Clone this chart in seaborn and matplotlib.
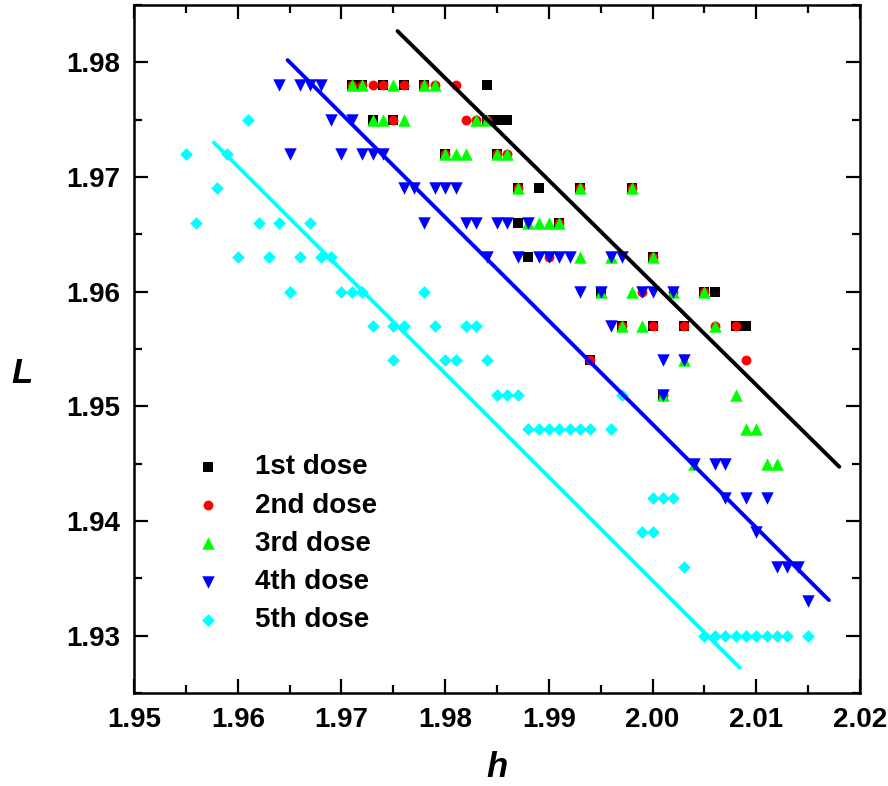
import matplotlib
matplotlib.use("Agg")
import matplotlib.pyplot as plt
import seaborn as sns
import numpy as np
import pandas as pd
from matplotlib.ticker import MultipleLocator

# ---------------- data ----------------
# 1st dose
h1 = [1.971, 1.972, 1.974, 1.976, 1.978, 1.984,
      1.973, 1.975, 1.984, 1.985, 1.986,
      1.980, 1.985,
      1.987, 1.989, 1.993, 1.998,
      1.987, 1.991,
      1.988, 2.000,
      1.995, 2.005, 2.006,
      1.997, 2.000, 2.003, 2.008, 2.009,
      1.994,
      2.001]
L1 = [1.978]*6 + [1.975]*5 + [1.972]*2 + [1.969]*4 + [1.966]*2 + [1.963]*2 + \
     [1.960]*3 + [1.957]*5 + [1.954]*1 + [1.951]*1

# 2nd dose
h2 = [1.971, 1.972, 1.973, 1.974, 1.976, 1.978, 1.979, 1.981,
      1.975, 1.982, 1.983, 1.984,
      1.980, 1.985, 1.986,
      1.987, 1.993, 1.998,
      1.991,
      1.990, 2.000,
      1.999, 2.002, 2.005,
      1.997, 2.000, 2.003, 2.006, 2.008,
      1.994, 2.009,
      2.001]
L2 = [1.978]*8 + [1.975]*4 + [1.972]*3 + [1.969]*3 + [1.966]*1 + [1.963]*2 + \
     [1.960]*3 + [1.957]*5 + [1.954]*2 + [1.951]*1

# 3rd dose
h3 = [1.971, 1.972, 1.975, 1.978, 1.979,
      1.973, 1.974, 1.976, 1.983, 1.984,
      1.980, 1.981, 1.982, 1.985, 1.986,
      1.987, 1.993, 1.998,
      1.988, 1.989, 1.990, 1.991,
      1.993, 1.996, 2.000,
      1.995, 1.998, 2.002, 2.005,
      1.997, 1.999, 2.006,
      2.003,
      2.001, 2.008,
      2.009, 2.010,
      2.004, 2.011, 2.012]
L3 = [1.978]*5 + [1.975]*5 + [1.972]*5 + [1.969]*3 + [1.966]*4 + [1.963]*3 + \
     [1.960]*4 + [1.957]*3 + [1.954]*1 + [1.951]*2 + [1.948]*2 + [1.945]*3

# 4th dose
h4 = [1.964, 1.966, 1.967, 1.968,
      1.969, 1.971,
      1.965, 1.970, 1.972, 1.973, 1.974,
      1.976, 1.977, 1.979, 1.980, 1.981,
      1.978, 1.982, 1.983, 1.985, 1.986, 1.988,
      1.984, 1.987, 1.989, 1.990, 1.991, 1.992, 1.996, 1.997,
      1.993, 1.995, 1.999, 2.000, 2.002,
      1.996,
      2.001, 2.003,
      2.001,
      2.004, 2.006, 2.007,
      2.007, 2.009, 2.011,
      2.010,
      2.012, 2.013, 2.014,
      2.015]
L4 = [1.978]*4 + [1.975]*2 + [1.972]*5 + [1.969]*5 + [1.966]*6 + [1.963]*8 + \
     [1.960]*5 + [1.957]*1 + [1.954]*2 + [1.951]*1 + [1.945]*3 + [1.942]*3 + \
     [1.939]*1 + [1.936]*3 + [1.933]*1

# 5th dose
h5 = [1.961,
      1.955, 1.959,
      1.958,
      1.956, 1.962, 1.964, 1.967,
      1.960, 1.963, 1.966, 1.968, 1.969,
      1.965, 1.970, 1.971, 1.972, 1.978,
      1.973, 1.975, 1.976, 1.979, 1.982, 1.983,
      1.975, 1.980, 1.981, 1.984,
      1.985, 1.986, 1.987, 1.997,
      1.988, 1.989, 1.990, 1.991, 1.992, 1.993, 1.994, 1.996,
      2.000, 2.001, 2.002,
      1.999, 2.000,
      2.003,
      2.005, 2.006, 2.007, 2.008, 2.009, 2.010, 2.011, 2.012, 2.013, 2.015]
L5 = [1.975]*1 + [1.972]*2 + [1.969]*1 + [1.966]*4 + [1.963]*5 + [1.960]*5 + \
     [1.957]*6 + [1.954]*4 + [1.951]*4 + [1.948]*8 + [1.942]*3 + [1.939]*2 + \
     [1.936]*1 + [1.930]*10

# fitted lines (end points)
fit1_h = [1.9754, 2.0180]
fit1_L = [1.98273, 1.94473]
fit4_h = [1.9648, 2.0170]
fit4_L = [1.9802, 1.9331]
fit5_h = [1.9577, 2.0084]
fit5_L = [1.9730, 1.9272]

labels = ["1st dose", "2nd dose", "3rd dose", "4th dose", "5th dose"]

# ---------------- plot ----------------
sns.set_theme(style="white")
plt.rcParams['font.family'] = ['Liberation Sans', 'DejaVu Sans']
plt.rcParams['font.weight'] = 'bold'
plt.rcParams['text.color'] = 'black'
plt.rcParams['axes.labelcolor'] = 'black'
plt.rcParams['xtick.color'] = 'black'
plt.rcParams['ytick.color'] = 'black'

fig = plt.figure(figsize=(8.88, 7.86), dpi=100)
ax = fig.add_axes([0.151, 0.1183, 0.8175, 0.8753])

series = [(h1, L1, "s", "#000000", 46),
          (h2, L2, "o", "#FF0000", 50),
          (h3, L3, "^", "#00FF00", 80),
          (h4, L4, "v", "#0000FF", 80),
          (h5, L5, "D", "#00FFFF", 42)]

for (hx, Ly, mk, col, size), lab in zip(series, labels):
    df = pd.DataFrame({"h": hx, "L": Ly})
    sns.scatterplot(data=df, x="h", y="L", marker=mk, color=col, s=size,
                    linewidth=0, edgecolor=col, ax=ax, label=lab, zorder=3)

for fh, fL, col in [(fit1_h, fit1_L, "#000000"),
                    (fit4_h, fit4_L, "#0000FF"),
                    (fit5_h, fit5_L, "#00FFFF")]:
    sns.lineplot(x=fh, y=fL, color=col, linewidth=2.8, ax=ax, zorder=4,
                 legend=False)

ax.set_xlim(1.95, 2.02)
ax.set_ylim(1.925, 1.985)
ax.xaxis.set_major_locator(MultipleLocator(0.01))
ax.xaxis.set_minor_locator(MultipleLocator(0.005))
ax.yaxis.set_major_locator(MultipleLocator(0.01))
ax.yaxis.set_minor_locator(MultipleLocator(0.005))
ax.xaxis.set_major_formatter(plt.FuncFormatter(lambda v, p: f"{v:.2f}"))
ax.yaxis.set_major_formatter(plt.FuncFormatter(lambda v, p: f"{v:.2f}"))

ax.tick_params(which="both", direction="in", top=True, right=True,
               bottom=True, left=True, width=1.6, color="black",
               labelsize=20, labelcolor="black", pad=10)
ax.tick_params(which="major", length=10)
ax.tick_params(which="minor", length=5.5)
for lbl in ax.get_xticklabels() + ax.get_yticklabels():
    lbl.set_fontweight("bold")

for sp in ax.spines.values():
    sp.set_visible(True)
    sp.set_color("black")
    sp.set_linewidth(1.8)

ax.set_xlabel("h", fontsize=25, fontweight="bold", style="italic",
              color="black")
ax.xaxis.set_label_coords(0.5, -0.085)
ax.set_ylabel("L", fontsize=25, fontweight="bold", style="italic",
              rotation=0, color="black")
ax.yaxis.set_label_coords(-0.155, 0.44)
ax.grid(False)

leg = ax.legend(loc="upper left", bbox_to_anchor=(0.083, 0.347),
                frameon=False, fontsize=20, handlelength=1.0,
                handletextpad=1.19, labelspacing=0.44, borderpad=0,
                borderaxespad=0, markerscale=1.0)
for t in leg.get_texts():
    t.set_fontweight("bold")
    t.set_color("black")

fig.savefig("out.png", dpi=100)
